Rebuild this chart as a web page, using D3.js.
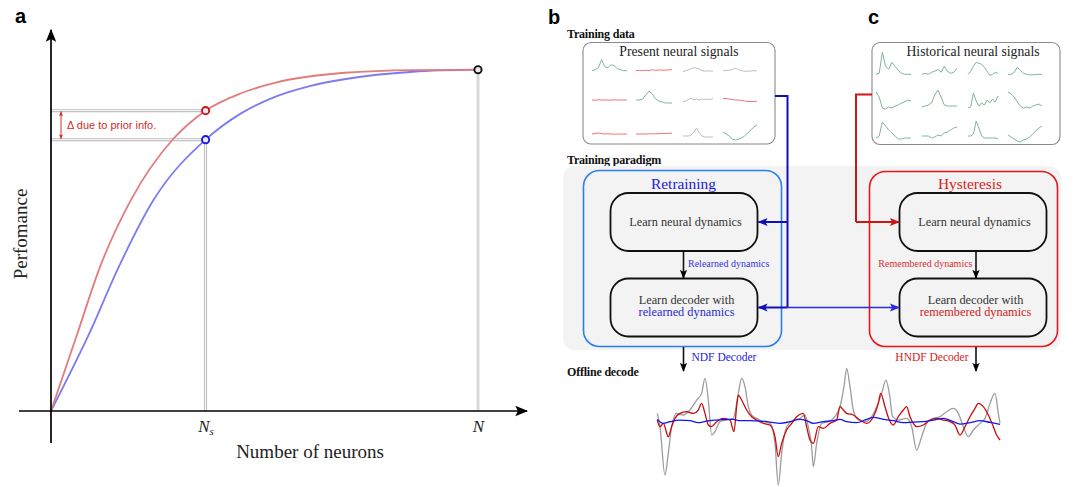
<!DOCTYPE html>
<html>
<head>
<meta charset="utf-8">
<script src="https://cdn.jsdelivr.net/npm/d3@7"></script>
<style>
  body { margin: 0; background: #fff; }
  svg { display: block; }
</style>
</head>
<body>
<svg id="fig" width="1077" height="487"></svg>
<script>
// ---- Panel a data (fraction of neurons, fraction of performance) ----
const priorCurve = [[0, 0], [0.062, 0.228], [0.115, 0.423], [0.187, 0.618], [0.284, 0.794],
  [0.362, 0.880], [0.445, 0.931], [0.526, 0.962], [0.687, 0.991], [0.848, 0.999], [1, 1]];
const retrainCurve = [[0, 0], [0.090, 0.228], [0.159, 0.423], [0.240, 0.618], [0.362, 0.795],
  [0.445, 0.872], [0.526, 0.921], [0.606, 0.952], [0.687, 0.972], [0.848, 0.994], [1, 1]];
const nsValue = 0.362;
const tickLabels = ["Ns", "N"];

// ---- Mini neural signals (px of rise above each cell baseline) ----
const presentColors = ["green", "red", "gray", "gray",
                       "red", "green", "gray", "red",
                       "red", "red", "gray", "green"];
const presentTraces = [
  [0, 1, 3, 11, 4, 3, 6, 5, 2, 1, 0, 0],
  [0, 0.3, 0, 0.5, 0.2, 1, 0.3, 0.8, 0.5, 0.6, 0.8, 1.2],
  [-1, 0, 1, 2, 3, 2.5, 1.5, 0, -0.5, 0, -0.5, -0.5],
  [0, 0, 0.5, 1, 2.5, 1, 0, -0.5, -0.5, -0.3, 0, -0.2],
  [0, -0.3, 0.2, 0, 0.2, -0.2, 0, 0.1, -0.1, 0, 0, 0.2],
  [0, 0, 1, 5, 9, 6, 1, -1, -2, -3, -3, -3],
  [-1.5, -1, 0.5, 2, 0, 1, 0, 1, 0.5, 1, 0.5, 1.5],
  [1.5, 1.5, 1, 0.5, 0, 0, -0.5, -1, -1.5, -1.5, -1.5, -1.2],
  [0, 0.5, 1, 0.5, 0, 0.2, 0, -0.2, 0, 0, -0.2, 0],
  [0, 0, 0, 0, 0.2, 0.2, 0.3, 0.3, 0.5, 0.5, 0.6, 0.8],
  [-2, -2, -2, -1, 2, 6, 1, -2, -3, -3, -3, -3],
  [2, 0, -2, -5, -6, -5, -4, -2, 1, 4, 7, 9]
];
const historicalTraces = [
  [0, 1, 22, 8, 5, 12, 8, 4, 1, 0, 0, 0],
  [0, 1, 0, 2, 3, 5, 2, 8, 3, 1, 2, 6],
  [0, 3, 8, 12, 11, 10, 7, 3, -1, 0, 2, 1],
  [0, 0, 2, 7, 4, 1, 0, -0.5, -0.5, -0.3, 0, 0],
  [13, 8, -3, -4, -2, -3, -1, 0, 2, 3, 5, 4],
  [-2, -1, 0, 2, 10, 15, 8, 0, -1, -1, -1, -1],
  [-3, -2, 12, 4, -1, 2, 0, 5, 2, 6, 3, 9],
  [13, 11, 8, 3, -1, -3, -2, -3, -1, 0, 1, -1],
  [-2, 0, 14, 10, 6, 3, 0, -3, -3, -2, -2, -2],
  [0, 0, 0, -2, -1, 1, 0, 3, 4, 6, 8, 9],
  [0, 0, 2, 15, 8, 0, -2, -2, -2, -2, -2, -3],
  [1, -1, -3, -5, -6, -4, -3, -1, 2, 5, 8, 10]
];

// ---- Offline decode traces [time, value] ----
const truthTrace = [[52,20],[60,-20],[75,-165],[85,-100],[95,-20],[110,20],[130,15],[150,30],[170,60],[185,80],
  [195,125],[205,60],[215,-45],[225,-35],[240,-5],[260,0],[280,5],[295,80],[305,125],[315,100],[325,40],
  [335,15],[350,5],[370,-5],[390,-10],[405,-70],[415,-195],[425,-100],[440,-20],[460,0],[480,5],[495,15],
  [505,-20],[515,-80],[520,-140],[530,-70],[545,-10],[565,-5],[585,10],[600,40],[612,100],[620,155],
  [630,100],[640,30],[655,0],[675,-5],[695,10],[710,40],[725,80],[738,120],[748,80],[758,10],[775,0],
  [800,5],[815,-20],[830,-90],[845,-50],[860,-10],[880,5],[900,10],[920,25],[940,35],[955,20],[970,-20],
  [985,-50],[1000,-30],[1020,-10],[1035,5],[1050,50],[1065,80],[1075,20],[1080,-10]];
const hndfTrace = [[52,0],[60,-20],[70,-10],[85,-50],[95,-20],[105,5],[120,20],[140,25],[160,20],[175,30],
  [185,50],[195,20],[205,-15],[215,-20],[230,-5],[250,5],[270,0],[282,-35],[290,40],[295,75],[305,60],
  [320,30],[335,10],[350,0],[370,-10],[390,-15],[405,-50],[415,-110],[425,-70],[440,-30],[455,-10],
  [470,10],[490,20],[500,-20],[510,-60],[520,-70],[535,-20],[550,-25],[570,-10],[590,0],[600,40],
  [610,30],[620,20],[640,15],[660,0],[680,-10],[700,10],[715,50],[722,80],[735,40],[748,0],[760,-15],
  [775,10],[790,30],[800,40],[810,10],[820,-10],[830,-20],[850,-15],[870,0],[890,5],[910,0],[930,-5],
  [945,-15],[960,-45],[975,-20],[990,10],[1005,35],[1015,50],[1030,40],[1045,15],[1060,-20],[1070,-45],[1080,-60]];
const ndfTrace = [[52,2],[70,-10],[90,-5],[120,0],[150,-2],[175,-8],[200,-3],[230,0],[260,2],[280,2],
  [300,-2],[330,-2],[360,-3],[390,-6],[420,-10],[450,-5],[480,2],[500,-2],[520,-10],[550,-5],[580,-2],
  [600,2],[620,-5],[650,-8],[680,2],[700,8],[730,2],[760,-2],[790,-8],[820,-6],[850,-5],[880,0],[910,5],
  [940,-5],[960,-12],[990,-8],[1020,-2],[1050,-7],[1080,-13]];

// ---- Setup ----
const serif = "'Liberation Serif', 'DejaVu Serif', serif";
const sans = "'Liberation Sans', Arial, sans-serif";
const svg = d3.select("#fig");
svg.append("rect").attr("width", 1077).attr("height", 487).attr("fill", "#fff");
const defs = svg.append("defs");

function makeMarker(id, color, size) {
  defs.append("marker")
    .attr("id", id)
    .attr("viewBox", "0 0 10 10")
    .attr("refX", 9).attr("refY", 5)
    .attr("markerWidth", size).attr("markerHeight", size)
    .attr("markerUnits", "userSpaceOnUse")
    .attr("orient", "auto-start-reverse")
    .append("path")
    .attr("d", "M0,1 L10,5 L0,9 L2,5 Z")
    .attr("fill", color);
}
makeMarker("arrAxis", "#000", 13);
makeMarker("arrBlack", "#000", 9);
makeMarker("arrBlue", "#1010b8", 10);
makeMarker("arrBlueLight", "#2a2ae0", 10);
makeMarker("arrRed", "#d01515", 10);
makeMarker("arrDelta", "#dd2a2a", 5);

// ================= Panel a =================
const xA = d3.scaleLinear().domain([0, 1]).range([51, 478]);
const yA = d3.scaleLinear().domain([0, 1]).range([411, 69.7]);
const ga = svg.append("g");

svg.append("text").text("a").attr("x", 15).attr("y", 23)
  .attr("font-family", sans).attr("font-weight", "bold").attr("font-size", 20);

const redAtNs = priorCurve.find(d => d[0] === nsValue)[1];
const blueAtNs = retrainCurve.find(d => d[0] === nsValue)[1];

function doubleLine(x1, y1, x2, y2) {
  ga.append("line").attr("x1", x1).attr("y1", y1).attr("x2", x2).attr("y2", y2)
    .attr("stroke", "#b9b9b9").attr("stroke-width", 3);
  ga.append("line").attr("x1", x1).attr("y1", y1).attr("x2", x2).attr("y2", y2)
    .attr("stroke", "#fff").attr("stroke-width", 1);
}

// guides
ga.append("line").attr("x1", xA(1)).attr("x2", xA(1)).attr("y1", yA(1)).attr("y2", yA(0))
  .attr("stroke", "#d9d9d9").attr("stroke-width", 3);
doubleLine(xA(0), yA(redAtNs), xA(nsValue), yA(redAtNs));
doubleLine(xA(0), yA(blueAtNs), xA(nsValue), yA(blueAtNs));
doubleLine(xA(nsValue), yA(blueAtNs), xA(nsValue), yA(0));

// delta arrow
ga.append("line").attr("x1", 61).attr("x2", 61)
  .attr("y1", yA(redAtNs) + 1).attr("y2", yA(blueAtNs) - 1)
  .attr("stroke", "#dd2a2a").attr("stroke-width", 1)
  .attr("marker-start", "url(#arrDelta)").attr("marker-end", "url(#arrDelta)");
ga.append("text").text("\u0394 due to prior info.")
  .attr("x", 67).attr("y", 128.5)
  .attr("font-family", sans).attr("font-size", 11).attr("fill", "#d42a2a");

// curves
const curveLine = d3.line().x(d => xA(d[0])).y(d => yA(d[1])).curve(d3.curveMonotoneX);
ga.append("path").datum(retrainCurve).attr("d", curveLine)
  .attr("fill", "none").attr("stroke", "#7b7bf2").attr("stroke-width", 1.8);
ga.append("path").datum(priorCurve).attr("d", curveLine)
  .attr("fill", "none").attr("stroke", "#e27c7c").attr("stroke-width", 1.8);

// axes
ga.append("line").attr("x1", 19).attr("x2", 527).attr("y1", yA(0)).attr("y2", yA(0))
  .attr("stroke", "#000").attr("stroke-width", 1.7).attr("marker-end", "url(#arrAxis)");
ga.append("line").attr("x1", xA(0)).attr("x2", xA(0)).attr("y1", 443).attr("y2", 30)
  .attr("stroke", "#000").attr("stroke-width", 1.7).attr("marker-end", "url(#arrAxis)");

const xAxis = d3.axisBottom(xA).tickValues([nsValue, 1]).tickSize(0).tickPadding(9);
const axisG = ga.append("g").attr("transform", "translate(0," + yA(0) + ")").call(xAxis);
axisG.select(".domain").remove();
axisG.selectAll(".tick text").each(function (d, i) {
  const t = d3.select(this).text("")
    .attr("font-family", serif).attr("font-size", 17).attr("fill", "#222");
  const lab = tickLabels[i];
  t.append("tspan").attr("font-style", "italic").text(lab[0]);
  if (lab.length > 1) {
    t.append("tspan").attr("font-style", "italic").attr("font-size", 11).attr("dy", 3).text(lab.slice(1));
  }
});

// markers
[[nsValue, redAtNs, "#cc1111"], [nsValue, blueAtNs, "#1515ee"], [1, 1, "#111"]].forEach(p => {
  ga.append("circle").attr("cx", xA(p[0])).attr("cy", yA(p[1])).attr("r", 3.6)
    .attr("fill", "#efe6ef").attr("stroke", p[2]).attr("stroke-width", 1.9);
});

// axis labels
ga.append("text").text("Number of neurons")
  .attr("x", 310).attr("y", 458).attr("text-anchor", "middle")
  .attr("font-family", serif).attr("font-size", 19).attr("fill", "#222");
ga.append("text").text("Perfomance")
  .attr("transform", "translate(27,234) rotate(-90)").attr("text-anchor", "middle")
  .attr("font-family", serif).attr("font-size", 19).attr("fill", "#222");

// ================= Panels b, c =================
const gb = svg.append("g");
svg.append("text").text("b").attr("x", 548).attr("y", 24)
  .attr("font-family", sans).attr("font-weight", "bold").attr("font-size", 20);
svg.append("text").text("c").attr("x", 868).attr("y", 24)
  .attr("font-family", sans).attr("font-weight", "bold").attr("font-size", 20);

function heading(txt, y) {
  gb.append("text").text(txt).attr("x", 567).attr("y", y)
    .attr("font-family", serif).attr("font-weight", "bold").attr("font-size", 12)
    .attr("letter-spacing", -0.2).attr("fill", "#111");
}
heading("Training data", 38);
heading("Training paradigm", 164);
heading("Offline decode", 376);

// training paradigm background
gb.append("rect").attr("x", 563).attr("y", 166).attr("width", 498).attr("height", 184)
  .attr("rx", 12).attr("fill", "#f3f3f3");

// signal boxes
function signalBox(x, y, w, h, title, tx) {
  gb.append("rect").attr("x", x).attr("y", y).attr("width", w).attr("height", h)
    .attr("rx", 8).attr("fill", "#fff").attr("stroke", "#8a8a8a").attr("stroke-width", 1.1);
  gb.append("text").text(title).attr("x", tx).attr("y", 55.5).attr("text-anchor", "middle")
    .attr("font-family", serif).attr("font-size", 13.7).attr("fill", "#222");
}
signalBox(583, 42.5, 192, 101.5, "Present neural signals", 679);
signalBox(872, 42.5, 188, 102, "Historical neural signals", 973);

const traceColor = { green: "#7fb597", red: "#ee7373", gray: "#bdbdbd" };
function drawMini(traces, colors, colX, colW, rowY) {
  traces.forEach((vals, k) => {
    const r = Math.floor(k / 4), c = k % 4;
    const xs = d3.scaleLinear().domain([0, vals.length - 1]).range([colX[c], colX[c] + colW[c]]);
    const ys = d3.scaleLinear().domain([0, 1]).range([rowY[r], rowY[r] - 1]);
    const ln = d3.line().x((d, i) => xs(i)).y(d => ys(d));
    gb.append("path").datum(vals).attr("d", ln).attr("fill", "none")
      .attr("stroke", traceColor[colors[k]]).attr("stroke-width", 1);
  });
}
drawMini(presentTraces, presentColors, [592, 636, 683, 723], [35, 36, 30, 34], [70.7, 100, 134]);
drawMini(historicalTraces, historicalTraces.map(() => "green"), [876, 922, 968, 1008], [35, 35, 30, 34], [74.3, 105, 136]);

// outer method boxes
gb.append("rect").attr("x", 583.5).attr("y", 170.5).attr("width", 198).attr("height", 176)
  .attr("rx", 16).attr("fill", "none").attr("stroke", "#2a7ff0").attr("stroke-width", 1.6);
gb.append("rect").attr("x", 869.5).attr("y", 171.5).attr("width", 188).attr("height", 175)
  .attr("rx", 16).attr("fill", "none").attr("stroke", "#e8161c").attr("stroke-width", 1.6);
gb.append("text").text("Retraining").attr("x", 683.5).attr("y", 188.5).attr("text-anchor", "middle")
  .attr("font-family", serif).attr("font-size", 15.4).attr("fill", "#2020d8");
gb.append("text").text("Hysteresis").attr("x", 970).attr("y", 188.5).attr("text-anchor", "middle")
  .attr("font-family", serif).attr("font-size", 15.4).attr("fill", "#d81c1c");

// inner step boxes
function stepBox(x, y, lines) {
  gb.append("rect").attr("x", x).attr("y", y).attr("width", 147).attr("height", 58)
    .attr("rx", 18).attr("fill", "#f3f3f3").attr("stroke", "#111").attr("stroke-width", 1.8);
  const cx = x + 75;
  if (lines.length === 1) {
    gb.append("text").text(lines[0][0]).attr("x", cx).attr("y", y + 32.5).attr("text-anchor", "middle")
      .attr("font-family", serif).attr("font-size", 12.3).attr("fill", lines[0][1]);
  } else {
    lines.forEach((l, i) => {
      gb.append("text").text(l[0]).attr("x", cx + 1).attr("y", y + 25.5 + i * 12).attr("text-anchor", "middle")
        .attr("font-family", serif).attr("font-size", 12.3).attr("fill", l[1]);
    });
  }
}
stepBox(610.5, 193, [["Learn neural dynamics", "#333"]]);
stepBox(610.5, 278.5, [["Learn decoder with", "#333"], ["relearned dynamics", "#2a2ad8"]]);
stepBox(899.5, 193, [["Learn neural dynamics", "#333"]]);
stepBox(899.5, 278.5, [["Learn decoder with", "#333"], ["remembered dynamics", "#d42020"]]);

// vertical step arrows
function arrow(x1, y1, x2, y2, stroke, w, mk) {
  gb.append("line").attr("x1", x1).attr("y1", y1).attr("x2", x2).attr("y2", y2)
    .attr("stroke", stroke).attr("stroke-width", w).attr("marker-end", "url(#" + mk + ")");
}
arrow(683.5, 251, 683.5, 278, "#111", 1.6, "arrBlack");
arrow(976, 251, 976, 278, "#111", 1.6, "arrBlack");
arrow(683.5, 347, 683.5, 371, "#111", 1.6, "arrBlack");
arrow(976, 347, 976, 371, "#111", 1.6, "arrBlack");

gb.append("text").text("Relearned dynamics").attr("x", 688).attr("y", 267)
  .attr("font-family", serif).attr("font-size", 10).attr("fill", "#3434e0");
gb.append("text").text("Remembered dynamics").attr("x", 972.5).attr("y", 267).attr("text-anchor", "end")
  .attr("font-family", serif).attr("font-size", 10).attr("fill", "#d83030");
gb.append("text").text("NDF Decoder").attr("x", 691.5).attr("y", 360.5)
  .attr("font-family", serif).attr("font-size", 11.5).attr("fill", "#2222dd");
gb.append("text").text("HNDF Decoder").attr("x", 968.5).attr("y", 360.5).attr("text-anchor", "end")
  .attr("font-family", serif).attr("font-size", 11.5).attr("fill", "#d82020");

// blue data connector
gb.append("path").attr("d", "M775,96 H787.5 V307.5").attr("fill", "none")
  .attr("stroke", "#1010b8").attr("stroke-width", 2);
arrow(787.5, 222, 758.5, 222, "#1010b8", 2, "arrBlue");
arrow(787.5, 307.5, 758.5, 307.5, "#1010b8", 2, "arrBlue");
arrow(787.5, 307.5, 899, 307.5, "#2a2ae0", 1.6, "arrBlueLight");
// red data connector
gb.append("path").attr("d", "M872,94.5 H856 V222").attr("fill", "none")
  .attr("stroke", "#d01515").attr("stroke-width", 2);
arrow(856, 222, 899, 222, "#d01515", 2, "arrRed");

// ---- offline decode traces ----
const xT = d3.scaleLinear().domain([52, 1080]).range([657.3, 1000]);
const yT = d3.scaleLinear().domain([-200, 160]).range([486.7, 366.7]);
const traceLine = d3.line().x(d => xT(d[0])).y(d => yT(d[1])).curve(d3.curveMonotoneX);
[[truthTrace, "#9c9c9c"], [hndfTrace, "#cc0a0a"], [ndfTrace, "#1414f0"]].forEach(s => {
  gb.append("path").datum(s[0]).attr("d", traceLine).attr("fill", "none")
    .attr("stroke", s[1]).attr("stroke-width", 1.3);
});
</script>
</body>
</html>
